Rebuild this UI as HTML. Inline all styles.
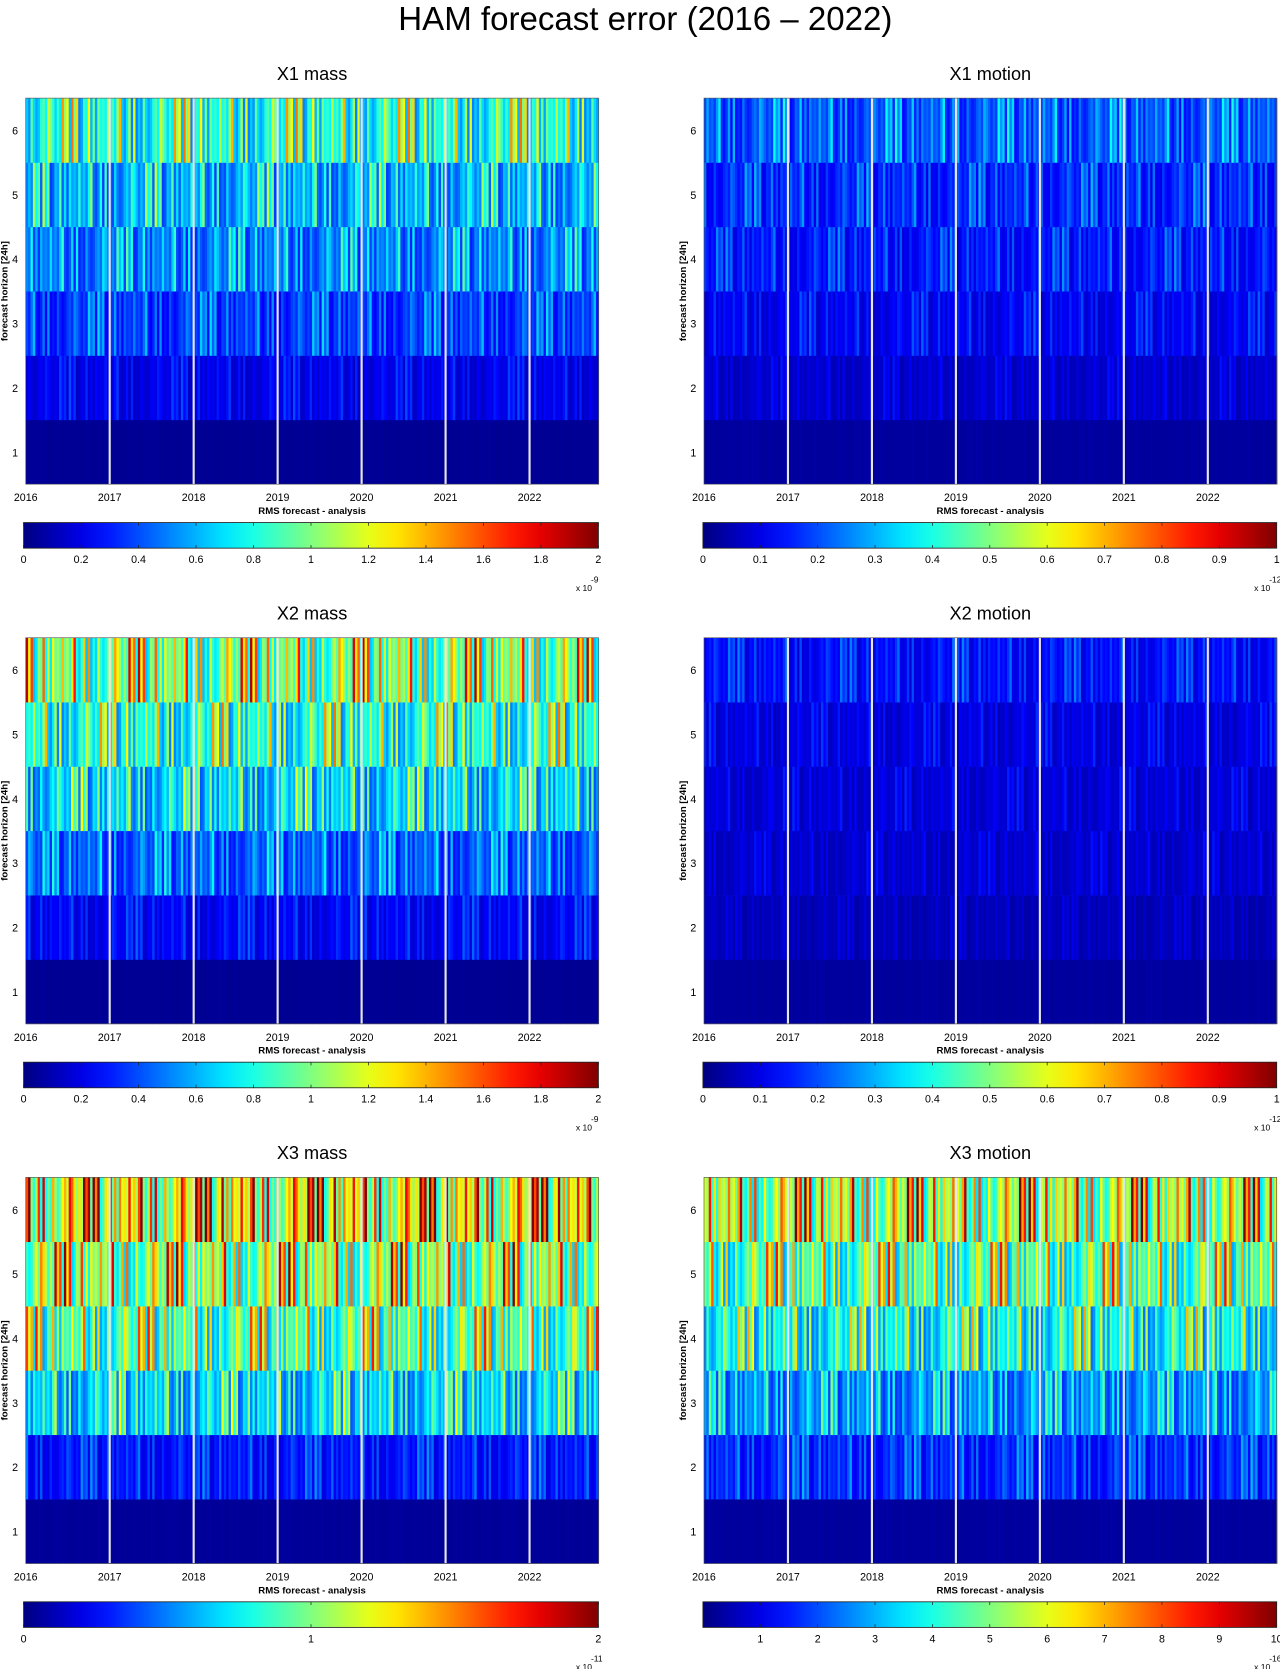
<!DOCTYPE html>
<html><head><meta charset="utf-8"><title>HAM forecast error</title>
<style>html,body{margin:0;padding:0;background:#fff}svg{display:block}text{font-family:"Liberation Sans",sans-serif;fill:#000}</style>
</head><body>
<svg id="fig" width="1280" height="1669" viewBox="0 0 1200 1565" xmlns="http://www.w3.org/2000/svg">
<text x="605" y="28" font-size="31" text-anchor="middle">HAM forecast error (2016 – 2022)</text>
</svg>
<script>
// ---- data ----
const years = [2016,2017,2018,2019,2020,2021,2022];
const horizons = [1,2,3,4,5,6];
const panelTitles = ["X1 mass","X1 motion","X2 mass","X2 motion","X3 mass","X3 motion"];
// mean value per forecast horizon row (1..6), in colorbar units
const x1MassLevels   = [0.04,0.22,0.38,0.52,0.62,0.85];
const x1MotionLevels = [0.03,0.08,0.12,0.15,0.17,0.22];
const x2MassLevels   = [0.04,0.25,0.45,0.7,0.85,1.05];
const x2MotionLevels = [0.03,0.06,0.08,0.09,0.1,0.14];
const x3MassLevels   = [0.05,0.3,0.7,0.95,1.1,1.3];
const x3MotionLevels = [0.3,1.7,2.8,4.0,4.8,5.8];
// stripe-to-stripe relative variation (read approximately from the stripes)
const stripePattern = [1.0,0.6,1.5,0.8,1.2,0.5,1.9,0.9,0.7,1.3,1.0,0.55,1.6,0.85,1.1,0.65,1.4,0.75,2.0,0.9,0.6,1.2,1.05,0.7,1.7,0.8,0.95,0.5,1.3,1.1,0.6,1.8,0.85,1.0,0.7,1.45,0.9,0.55,1.25,1.6,0.8,1.0,0.65,1.35,0.75,1.15,0.5];
const massTicks = [0,0.2,0.4,0.6,0.8,1,1.2,1.4,1.6,1.8,2];
const motionTicks = [0,0.1,0.2,0.3,0.4,0.5,0.6,0.7,0.8,0.9,1];
const x3MassTicks = [0,1,2];
const x3MotionTicks = [1,2,3,4,5,6,7,8,9,10];
const cbarMax = [2,1,2,1,2,10];
const exponents = ["-9","-12","-9","-12","-11","-16"];

const panelLevels = [x1MassLevels,x1MotionLevels,x2MassLevels,x2MotionLevels,x3MassLevels,x3MotionLevels];
const panelTicks = [massTicks,motionTicks,massTicks,motionTicks,x3MassTicks,x3MotionTicks];

const NS="http://www.w3.org/2000/svg";
const svg=document.getElementById('fig');
function mk(tag,attrs,parent){const e=document.createElementNS(NS,tag);for(const k in attrs)e.setAttribute(k,attrs[k]);(parent||svg).appendChild(e);return e;}
function jet(t){t=Math.max(0,Math.min(1,t));
 const r=Math.max(0,Math.min(1,1.5-Math.abs(4*t-3)));
 const g=Math.max(0,Math.min(1,1.5-Math.abs(4*t-2)));
 const b=Math.max(0,Math.min(1,1.5-Math.abs(4*t-1)));
 return `rgb(${Math.round(r*255)},${Math.round(g*255)},${Math.round(b*255)})`;}

const YSPAN=6.82, NCOL=240;
for(let p=0;p<6;p++){
 const col=p%2,row=Math.floor(p/2);
 const x0=col?660:24,x1=col?1197:561,top=[92,598,1104][row],H=362,W=x1-x0;
 const xs=v=>x0+(v-2016)*W/YSPAN;
 const ys=h=>top+H-(h-0.5)*H/6;
 const g=mk('g',{});
 
 
 const ttl=mk('text',{x:(x0+x1)/2,y:top-17,'font-size':17,'text-anchor':'middle'},g);
 ttl.textContent=panelTitles[p];
 
 
 const levels=panelLevels[p],max=cbarMax[p];
 const cw=W/NCOL;
 for(let r=0;r<6;r++){
  for(let i=0;i<NCOL;i++){
   const m=stripePattern[(i*3+r*11+p*5)%stripePattern.length];
   const spread=r===0?0.3:0.8;
   const v=levels[r]*(1+(m-1)*spread);
   const c=mk('rect',{x:(x0+i*cw).toFixed(2),y:ys(horizons[r]+0.5),width:(cw+0.6).toFixed(2),height:H/6+0.3,fill:jet(v/max)},g);
   
   
  }
 }
 // year gaps
 for(let k=1;k<years.length;k++){
  const l=mk('rect',{x:xs(years[k])-1,y:top,width:2,height:H,fill:'#e6e6ee'},g);
  
  
 }
 mk('rect',{x:x0,y:top,width:W,height:H,fill:'none',stroke:'#555','stroke-width':0.6},g);
 // y ticks
 horizons.forEach(h=>{const t=mk('text',{x:x0-10,y:ys(h)+4,'font-size':10,'text-anchor':'middle'},g);t.textContent=h;
  });
 const yl=mk('text',{x:0,y:0,'font-size':9,'font-weight':'bold','text-anchor':'middle',transform:`translate(${x0-17},${top+H/2}) rotate(-90)`},g);
 yl.textContent='forecast horizon [24h]';
 
 years.forEach(y=>{const t=mk('text',{x:xs(y),y:top+H+16,'font-size':10,'text-anchor':'middle'},g);t.textContent=y;
  });
 const xl=mk('text',{x:(x0+x1)/2,y:top+H+28,'font-size':9,'font-weight':'bold','text-anchor':'middle'},g);
 xl.textContent='RMS forecast - analysis';
 
 // colorbar
 const cx0=col?659:22,cx1=col?1197:561,cy=top+398;
 const gid='grad'+p;
 const defs=mk('defs',{},g);const lg=mk('linearGradient',{id:gid,x1:0,x2:1,y1:0,y2:0},defs);
 for(let s=0;s<=20;s++)mk('stop',{offset:s/20,'stop-color':jet(s/20)},lg);
 const cb=mk('rect',{x:cx0,y:cy,width:cx1-cx0,height:24,fill:`url(#${gid})`,stroke:'#222','stroke-width':0.8},g);
 
 panelTicks[p].forEach(tv=>{
  const tx=cx0+tv/max*(cx1-cx0);
  mk('line',{x1:tx,x2:tx,y1:cy,y2:cy+3,stroke:'#222','stroke-width':0.7},g);
  mk('line',{x1:tx,x2:tx,y1:cy+21,y2:cy+24,stroke:'#222','stroke-width':0.7},g);
  const t=mk('text',{x:tx,y:cy+38,'font-size':10,'text-anchor':'middle'},g);t.textContent=tv;
  
 });
 const ex=mk('text',{x:cx1-6,y:cy+64,'font-size':8,'text-anchor':'end'},g);ex.textContent='x 10';
 
 const ee=mk('text',{x:cx1-7,y:cy+56,'font-size':8,'text-anchor':'start'},g);ee.textContent=exponents[p];
 
}
</script>
</body></html>
